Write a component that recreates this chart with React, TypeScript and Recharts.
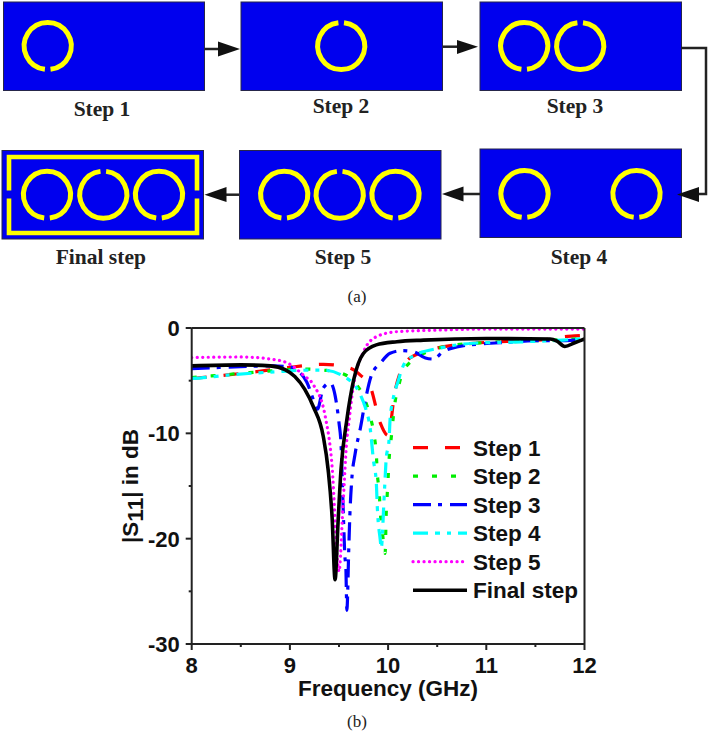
import { LineChart, Line, XAxis, YAxis } from "recharts"

// one frequency list per curve because the dips sit in different places
const step1Freq = [8, 8.32, 8.66, 9.03, 9.34, 9.61, 9.72, 9.82, 9.92, 10, 10.07, 10.12, 10.17, 10.36, 10.5, 10.7, 10.94, 11.4, 11.65, 11.78, 11.9, 12]
const step1Db = [-4.8, -4.5, -4.15, -3.7, -3.45, -3.8, -4.5, -5.6, -9, -10.2, -6, -4.3, -3.3, -2.25, -1.9, -1.6, -1.4, -1.2, -1.05, -0.83, -0.75, -0.7]

const step2Freq = [8, 8.2, 8.57, 8.77, 9.15, 9.34, 9.53, 9.66, 9.75, 9.82, 9.86, 9.88, 9.89, 9.91, 9.92, 9.94, 9.97, 9.98, 9.99, 10, 10.01, 10.03, 10.07, 10.11, 10.17, 10.5, 10.87, 11.4, 11.78, 12]
const step2Db = [-4.7, -4.55, -4.25, -4.1, -3.9, -4, -4.3, -5.2, -6.5, -8.5, -10.3, -12, -13.8, -15.6, -17.4, -19.2, -21.4, -17.8, -16, -14.3, -12.5, -10.6, -7.1, -5.4, -3.8, -1.95, -1.45, -1.25, -1.1, -1]

const step3Freq = [8, 8.29, 8.83, 9, 9.1, 9.17, 9.26, 9.28, 9.34, 9.41, 9.46, 9.5, 9.52, 9.545, 9.56, 9.57, 9.58, 9.6, 9.61, 9.63, 9.665, 9.72, 9.77, 9.83, 9.92, 10.02, 10.14, 10.26, 10.38, 10.46, 10.56, 10.7, 10.97, 11.24, 11.48, 11.72, 12]
const step3Db = [-3.85, -3.75, -3.6, -3.7, -4.2, -5.1, -7.3, -7.7, -5.7, -5.2, -6.4, -9, -10.9, -17.9, -21.7, -22.7, -26.8, -20.8, -17.9, -14.4, -11.9, -9.4, -6.8, -4.5, -3.35, -2.4, -2.15, -2.25, -2.85, -2.95, -2.25, -1.8, -1.5, -1.35, -1.2, -1.2, -1.1]

const step4Freq = [8, 8.08, 8.39, 8.87, 9.2, 9.34, 9.55, 9.72, 9.77, 9.82, 9.85, 9.88, 9.89, 9.92, 9.93, 9.96, 9.98, 10.01, 10.02, 10.05, 10.1, 10.17, 10.27, 10.53, 10.87, 11.4, 11.78, 12]
const step4Db = [-4.8, -4.75, -4.45, -4.15, -4, -4, -4.6, -6.4, -7.6, -9.7, -12.5, -14.7, -17, -20.1, -20.9, -16, -12.5, -10.6, -8.7, -6.8, -5.1, -3.3, -2.6, -1.9, -1.45, -1.3, -1.15, -1]

const step5Freq = [8, 8.5, 8.8, 8.97, 9.14, 9.24, 9.36, 9.43, 9.49, 9.5, 9.54, 9.58, 9.6, 9.64, 9.75, 9.88, 10.09, 10.5, 11, 12]
const step5Db = [-2.8, -2.75, -2.95, -3.3, -4.5, -5.4, -8.4, -13.2, -22.6, -23.1, -17, -10.6, -9, -5.9, -2.25, -0.83, -0.35, -0.2, -0.1, -0.1]

const finalFreq = [8, 8.5, 8.8, 8.95, 9.05, 9.15, 9.24, 9.34, 9.39, 9.43, 9.46, 9.49, 9.52, 9.58, 9.65, 9.75, 9.88, 10.09, 10.36, 11, 11.65, 11.72, 11.8, 11.9, 12]
const finalDb = [-3.6, -3.5, -3.6, -3.95, -4.6, -5.8, -7.5, -10.3, -13.5, -18, -23.9, -18.5, -13.5, -8.7, -4.9, -2.4, -1.6, -1.3, -1.15, -1, -1.05, -1.25, -1.75, -1.4, -1.05]

const xTicks = [8, 8.5, 9, 9.5, 10, 10.5, 11, 11.5, 12]
const yTicks = [0, -5, -10, -15, -20, -25, -30]

const zip = (fs: number[], dbs: number[]) => fs.map((f, i) => ({ f, db: dbs[i] }))

const series = [
  { name: "Step 1", data: zip(step1Freq, step1Db), color: "#ff0000", dash: "15 17", cap: "butt", width: 3.2 },
  { name: "Step 2", data: zip(step2Freq, step2Db), color: "#00ee00", dash: "5 14", cap: "butt", width: 3.2 },
  { name: "Step 3", data: zip(step3Freq, step3Db), color: "#0000ff", dash: "18 7 4 8", cap: "butt", width: 3.2 },
  { name: "Step 4", data: zip(step4Freq, step4Db), color: "#00ffff", dash: "15 7 5 7 4 7", cap: "butt", width: 3.2 },
  { name: "Step 5", data: zip(step5Freq, step5Db), color: "#ff00ff", dash: "0.1 5.4", cap: "round", width: 3.2 },
  { name: "Final step", data: zip(finalFreq, finalDb), color: "#000000", dash: undefined, cap: "butt", width: 3.6 },
]

const sans = "Liberation Sans, Arial, sans-serif"
const serif = "Liberation Serif, Times New Roman, serif"
const axisColor = "#222"

function BottomTick({ x, y, payload }: any) {
  const major = Number.isInteger(payload.value)
  return (
    <g>
      <line x1={x} x2={x} y1={y} y2={y + (major ? 6 : 3)} stroke={axisColor} strokeWidth={2} />
      {major && (
        <text x={x} y={y + 29} textAnchor="middle" fontFamily={sans} fontWeight="bold" fontSize={22} fill="#111">
          {payload.value}
        </text>
      )}
    </g>
  )
}

function TopTick({ x, y, payload }: any) {
  const major = Number.isInteger(payload.value)
  return <line x1={x} x2={x} y1={y} y2={y + (major ? 6 : 3)} stroke={axisColor} strokeWidth={2} />
}

function LeftTick({ x, y, payload }: any) {
  const major = payload.value % 10 === 0
  return (
    <g>
      <line x1={x} x2={x - (major ? 6 : 3)} y1={y} y2={y} stroke={axisColor} strokeWidth={2} />
      {major && (
        <text x={x - 12} y={y + 8} textAnchor="end" fontFamily={sans} fontWeight="bold" fontSize={22} fill="#111">
          {payload.value}
        </text>
      )}
    </g>
  )
}

function RightTick({ x, y, payload }: any) {
  const major = payload.value % 10 === 0
  return <line x1={x} x2={x - (major ? 6 : 3)} y1={y} y2={y} stroke={axisColor} strokeWidth={2} />
}

function Ring({ cx, cy, gap }: { cx: number; cy: number; gap: "top" | "bottom" }) {
  const r = 23.5
  const half = 2.8
  const dy = Math.sqrt(r * r - half * half)
  const sign = gap === "bottom" ? 1 : -1
  const sweep = gap === "bottom" ? 1 : 0
  return (
    <path
      d={`M ${cx - half} ${cy + sign * dy} A ${r} ${r} 0 1 ${sweep} ${cx + half} ${cy + sign * dy}`}
      fill="none"
      stroke="#ffff00"
      strokeWidth={5}
    />
  )
}

function Box({ x, y, w, h }: { x: number; y: number; w: number; h: number }) {
  return <rect x={x} y={y} width={w} height={h} fill="#0000ee" stroke="#26264a" strokeWidth={1} />
}

function Caption({ x, y, children }: any) {
  return (
    <text x={x} y={y} textAnchor="middle" fontFamily={serif} fontWeight="bold" fontSize={21.5} fill="#222">
      {children}
    </text>
  )
}

function Schematic() {
  const wire = { stroke: "#222", strokeWidth: 2.5, fill: "none" }
  return (
    <svg width={708} height={732} style={{ position: "absolute", left: 0, top: 0 }}>
      <Box x={3.5} y={2} w={201} h={88.5} />
      <Box x={241} y={2} w={201.5} h={88.5} />
      <Box x={480} y={2} w={201.5} h={88.5} />
      <Box x={2} y={150.5} w={201.5} h={88.5} />
      <Box x={239.5} y={150.5} w={201.5} h={88.5} />
      <Box x={480} y={149} w={201.5} h={88.5} />

      <Ring cx={47.7} cy={46} gap="bottom" />
      <Ring cx={341.2} cy={46} gap="top" />
      <Ring cx={524.2} cy={46} gap="bottom" />
      <Ring cx={580.2} cy={46} gap="top" />
      <Ring cx={524.5} cy={194} gap="bottom" />
      <Ring cx={636.5} cy={194} gap="bottom" />
      <Ring cx={284.2} cy={194.7} gap="bottom" />
      <Ring cx={339.7} cy={194.7} gap="top" />
      <Ring cx={395.5} cy={194.7} gap="bottom" />
      <Ring cx={47} cy={194.7} gap="bottom" />
      <Ring cx={103.3} cy={194.7} gap="top" />
      <Ring cx={159} cy={194.7} gap="bottom" />

      <path d="M 9 190.5 V 157 H 197 V 190.5 M 197 198.5 V 233 H 9 V 198.5" fill="none" stroke="#ffff00" strokeWidth={4.6} />

      <path d="M 205 49 H 220" {...wire} />
      <polygon points="218,41.5 240,49 218,56.5" fill="#111" />
      <path d="M 443 46.7 H 459" {...wire} />
      <polygon points="457,40 478,46.7 457,54" fill="#111" />
      <path d="M 681 48 H 706 V 194 H 697" {...wire} />
      <polygon points="699,187 677,194.5 699,202" fill="#111" />
      <path d="M 480 194 H 462" {...wire} />
      <polygon points="463.5,186.5 442,194 463.5,201.5" fill="#111" />
      <path d="M 239 194.7 H 225" {...wire} />
      <polygon points="226.5,187 204.5,194.7 226.5,202" fill="#111" />

      <Caption x={102} y={116}>Step 1</Caption>
      <Caption x={341} y={113}>Step 2</Caption>
      <Caption x={575} y={113}>Step 3</Caption>
      <Caption x={100.8} y={264}>Final step</Caption>
      <Caption x={343} y={264}>Step 5</Caption>
      <Caption x={579} y={264}>Step 4</Caption>

      <text x={357} y={302} textAnchor="middle" fontFamily={serif} fontSize={17} fill="#222">(a)</text>
      <text x={357} y={727} textAnchor="middle" fontFamily={serif} fontSize={17} fill="#222">(b)</text>
    </svg>
  )
}

function Overlay() {
  return (
    <svg width={708} height={732} style={{ position: "absolute", left: 0, top: 0, pointerEvents: "none" }}>
      {series.map((s, i) => {
        const y = 447.7 + i * 28.5
        return (
          <g key={s.name}>
            <line
              x1={413}
              x2={467}
              y1={y}
              y2={y}
              stroke={s.color}
              strokeWidth={s.width}
              strokeDasharray={s.dash}
              strokeLinecap={s.cap as any}
            />
            <text x={473} y={y + 8} fontFamily={sans} fontWeight="bold" fontSize={22.5} fill="#111">
              {s.name}
            </text>
          </g>
        )
      })}
      <text
        transform="translate(137.5 486) rotate(-90)"
        textAnchor="middle"
        fontFamily={sans}
        fontWeight="bold"
        fontSize={22.5}
        fill="#111"
      >
        |S
        <tspan dy={5}>11</tspan>
        <tspan dy={-5}>| in dB</tspan>
      </text>
    </svg>
  )
}

export default function App() {
  return (
    <div style={{ position: "absolute", left: 0, top: 0, width: 708, height: 732, background: "#fff" }}>
      <Schematic />
      <div style={{ position: "absolute", left: 0, top: 0 }}>
        {/* axes need a size of at least 1px to draw, so the margins give that 1px back */}
        <LineChart width={708} height={732} margin={{ top: 327, right: 122.5, bottom: 87, left: 190.7 }}>
          <XAxis
            type="number"
            dataKey="f"
            domain={[8, 12]}
            ticks={xTicks}
            interval={0}
            height={1}
            tickSize={0}
            tickMargin={0}
            tickLine={false}
            tick={<BottomTick />}
            stroke={axisColor}
            strokeWidth={2}
            allowDataOverflow
            label={{
              value: "Frequency (GHz)",
              position: "bottom",
              offset: 35,
              fontFamily: sans,
              fontWeight: "bold",
              fontSize: 22.5,
              fill: "#111",
            }}
          />
          <XAxis
            xAxisId="top"
            orientation="top"
            type="number"
            domain={[8, 12]}
            ticks={xTicks}
            interval={0}
            height={1}
            tickSize={0}
            tickMargin={0}
            tickLine={false}
            tick={<TopTick />}
            stroke={axisColor}
            strokeWidth={2}
          />
          <YAxis
            type="number"
            domain={[-30, 0]}
            ticks={yTicks}
            interval={0}
            width={1}
            tickSize={0}
            tickMargin={0}
            tickLine={false}
            tick={<LeftTick />}
            stroke={axisColor}
            strokeWidth={2}
            allowDataOverflow
          />
          <YAxis
            yAxisId="right"
            orientation="right"
            type="number"
            domain={[-30, 0]}
            ticks={yTicks}
            interval={0}
            width={1}
            tickSize={0}
            tickMargin={0}
            tickLine={false}
            tick={<RightTick />}
            stroke={axisColor}
            strokeWidth={2}
          />
          {series.map((s) => (
            <Line
              key={s.name}
              data={s.data}
              dataKey="db"
              name={s.name}
              type="monotone"
              stroke={s.color}
              strokeWidth={s.width}
              strokeDasharray={s.dash}
              strokeLinecap={s.cap as any}
              dot={false}
              activeDot={false}
              isAnimationActive={false}
            />
          ))}
        </LineChart>
      </div>
      <Overlay />
    </div>
  )
}
